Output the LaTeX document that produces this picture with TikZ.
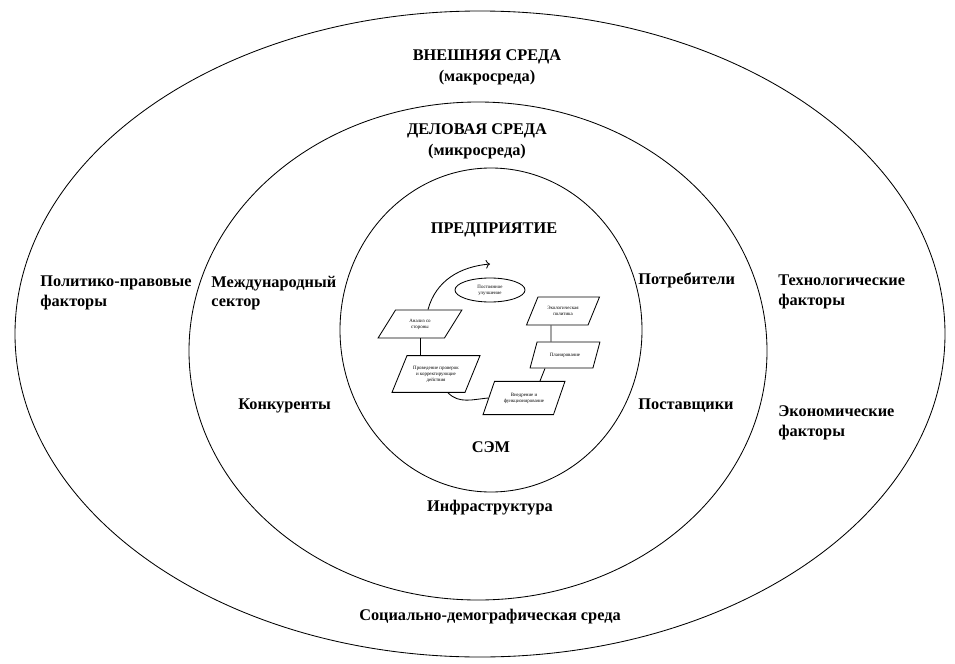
\documentclass[tikz,border=0pt]{standalone}
\usepackage{fontspec}
\setmainfont{Liberation Serif}
\usetikzlibrary{arrows.meta, shapes.geometric}
\tikzset{
  lbl/.style={font=\bfseries\fontsize{11.6}{14}\selectfont, align=left, inner sep=0pt},
  ttl/.style={font=\bfseries\fontsize{11.6}{15}\selectfont, align=center, inner sep=0pt},
  pbox/.style={draw, trapezium, trapezium left angle=55, trapezium right angle=125, trapezium stretches=true, font=\fontsize{3.5}{4.2}\selectfont, align=center, inner sep=0.5pt}
}
\begin{document}
\begin{tikzpicture}[x=0.025cm, y=-0.025cm, line width=0.6pt]
\useasboundingbox (0,0) rectangle (955,664);
\draw (480,334) ellipse [x radius=465, y radius=323];
\draw (478,351) ellipse [x radius=289, y radius=249];
\draw (491,330) ellipse [x radius=151, y radius=162];
\node[ttl] (vnesh) at (487,67) {ВНЕШНЯЯ СРЕДА\\(макросреда)};
\node[ttl] (delov) at (477,141) {ДЕЛОВАЯ СРЕДА\\(микросреда)};
\node[ttl] (pred) at (494,230) {ПРЕДПРИЯТИЕ};
\node[lbl, anchor=west] (polit) at (40,293) {Политико-правовые\\факторы};
\node[lbl, anchor=west] (mezhd) at (211,293) {Международный\\сектор};
\node[lbl, anchor=west] (konk) at (238,406) {Конкуренты};
\node[lbl, anchor=west] (potr) at (638,280) {Потребители};
\node[lbl, anchor=west] (post) at (638,406) {Поставщики};
\node[lbl, anchor=west] (tehn) at (778,292) {Технологические\\факторы};
\node[lbl, anchor=west] (ekon) at (778,423) {Экономические\\факторы};
\node[ttl] (sem) at (491,447) {СЭМ};
\node[ttl] (infra) at (490,508) {Инфраструктура};
\node[ttl] (soc) at (490,617) {Социально-демографическая среда};
\node[draw, ellipse, minimum width=1.75cm, minimum height=0.6cm, inner sep=0pt, font=\fontsize{3.5}{4.2}\selectfont, align=center] (ul) at (490,290) {Постоянное\\улучшение};
\node[pbox, minimum width=2.1cm, minimum height=0.7cm] (an) at (420,324) {Анализ со\\стороны};
\node[pbox, minimum width=2.2cm, minimum height=0.92cm] (pr) at (436,374) {Проведение проверок\\и корректирующие\\действия};
\node[pbox, minimum width=2.05cm, minimum height=0.83cm] (vn) at (524,398) {Внедрение и\\функционирование};
\node[pbox, minimum width=1.83cm, minimum height=0.7cm] (ek) at (563,311) {Экологическая\\политика};
\node[pbox, minimum width=1.75cm, minimum height=0.65cm] (pl) at (565,355) {Планирование};
\coordinate (tip) at (490,264);
\draw (an.south) -- (an.south |- pr.north);
\draw ([xshift=0.3cm]pr.south) to[out=-45,in=185] (vn.west);
\draw ([xshift=-0.5cm]pl.south) -- ([xshift=0.4cm]vn.north);
\draw ([xshift=-0.3cm]ek.south) -- ([xshift=-0.35cm]pl.north);
\draw[->] ([xshift=0.2cm]an.north) to[out=75,in=185] (tip);
\end{tikzpicture}
\end{document}
